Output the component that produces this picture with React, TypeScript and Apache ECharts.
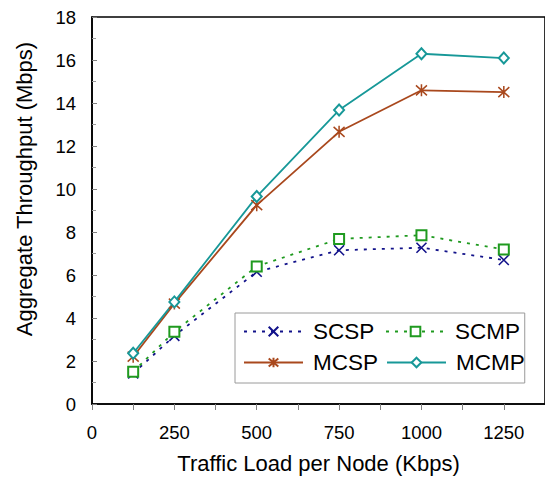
import React, { useEffect, useRef } from "react";
import * as echarts from "echarts";

const xValues = [125, 250, 500, 750, 1000, 1250];
const scsp = [1.42, 3.17, 6.15, 7.15, 7.27, 6.7];
const scmp = [1.5, 3.36, 6.4, 7.68, 7.85, 7.19];
const mcsp = [2.2, 4.67, 9.25, 12.66, 14.59, 14.51];
const mcmp = [2.36, 4.75, 9.65, 13.67, 16.29, 16.09];

const seriesNames = ["SCSP", "SCMP", "MCSP", "MCMP"];
const xAxisName = "Traffic Load per Node (Kbps)";
const yAxisName = "Aggregate Throughput (Mbps)";

const FONT = "'Liberation Sans', Arial, sans-serif";
const NAVY = "#12128a";
const GREEN = "#1f9a1f";
const BROWN = "#a9481d";
const TEAL = "#179898";

const pair = (ys: number[]) => xValues.map((x, i) => [x, ys[i]]);

export default function App() {
  const ref = useRef<HTMLDivElement>(null);
  useEffect(() => {
    if (!ref.current) return;
    const chart = echarts.init(ref.current, undefined, { renderer: "svg" });
    chart.setOption({
      animation: false,
      backgroundColor: "#ffffff",
      textStyle: { fontFamily: FONT },
      grid: {
        left: 92,
        top: 17,
        right: -1.5,
        bottom: 73,
        show: true,
        borderColor: "#000",
        borderWidth: 1.6,
        backgroundColor: "transparent",
      },
      legend: {
        left: 235,
        top: 313,
        width: 300,
        orient: "horizontal",
        padding: [7, 0, 9, 8],
        itemGap: 8,
        itemWidth: 59,
        itemHeight: 12,
        borderColor: "#9a9a9a",
        borderWidth: 1,
        backgroundColor: "#fff",
        data: seriesNames,
        textStyle: {
          fontFamily: FONT,
          fontSize: 22.5,
          color: "#000",
          width: 64,
          lineHeight: 18,
          padding: [0, 0, 0, 5],
        },
      },
      xAxis: {
        type: "value",
        min: 0,
        max: 1375,
        interval: 125,
        name: xAxisName,
        nameLocation: "middle",
        nameGap: 48,
        nameTextStyle: { fontFamily: FONT, fontSize: 22, color: "#000" },
        axisLine: { show: true, onZero: false, lineStyle: { color: "#000", width: 1.6 } },
        axisTick: { show: true, inside: false, length: 6, lineStyle: { color: "#808080", width: 1 } },
        axisLabel: {
          fontFamily: FONT,
          fontSize: 18.5,
          color: "#000",
          margin: 19,
          showMaxLabel: false,
          formatter: (v: number) => (v % 250 === 0 ? String(v) : ""),
        },
        splitLine: { show: false },
      },
      yAxis: {
        type: "value",
        min: 0,
        max: 18,
        interval: 2,
        name: yAxisName,
        nameLocation: "middle",
        nameGap: 57,
        nameTextStyle: {
          fontFamily: FONT,
          fontSize: 22,
          color: "#000",
          padding: [0, 0, 0, 43],
        },
        axisLine: { show: true, lineStyle: { color: "#000", width: 1.6 } },
        axisTick: { show: true, inside: true, length: 5, lineStyle: { color: "#808080", width: 1 } },
        minorTick: { show: true, splitNumber: 2, length: 4, lineStyle: { color: "#9a9a9a", width: 1 } },
        axisLabel: { fontFamily: FONT, fontSize: 18.5, color: "#000", margin: 16 },
        splitLine: { show: false },
      },
      series: [
        {
          name: "SCSP",
          type: "line",
          data: pair(scsp),
          symbol: "path://M0,0L10,10M10,0L0,10",
          symbolSize: 10,
          lineStyle: { color: NAVY, width: 1.8, type: [3, 6] },
          itemStyle: { color: NAVY, borderColor: NAVY, borderWidth: 1.6 },
          z: 3,
        },
        {
          name: "SCMP",
          type: "line",
          data: pair(scmp),
          symbol: "emptyRect",
          symbolSize: 10,
          lineStyle: { color: GREEN, width: 1.8, type: [3, 6] },
          itemStyle: { color: GREEN, borderColor: GREEN, borderWidth: 1.6 },
          z: 3,
        },
        {
          name: "MCSP",
          type: "line",
          data: pair(mcsp),
          symbol: "path://M0,1L10,11M10,1L0,11M5,0L5,12",
          symbolSize: [11, 12],
          lineStyle: { color: BROWN, width: 1.8 },
          itemStyle: { color: BROWN, borderColor: BROWN, borderWidth: 1.6 },
          z: 3,
        },
        {
          name: "MCMP",
          type: "line",
          data: pair(mcmp),
          symbol: "emptyDiamond",
          symbolSize: [10, 11],
          lineStyle: { color: TEAL, width: 1.8 },
          itemStyle: { color: TEAL, borderColor: TEAL, borderWidth: 1.5 },
          z: 3,
        },
      ],
    });
    return () => chart.dispose();
  }, []);
  return (
    <div
      ref={ref}
      style={{ position: "absolute", left: 0, top: 0, width: 545, height: 479 }}
    />
  );
}
